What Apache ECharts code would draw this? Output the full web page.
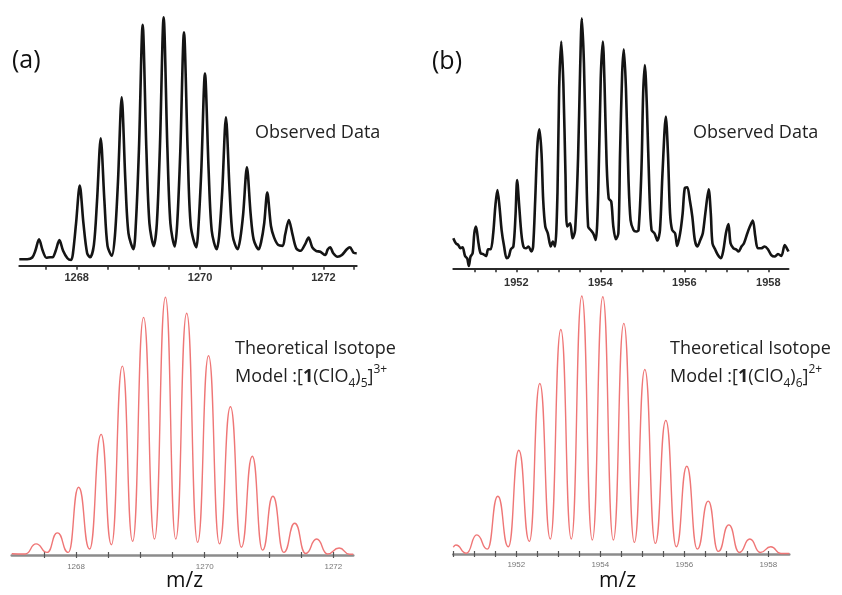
<!DOCTYPE html>
<html>
<head>
<meta charset="utf-8">
<script src="https://cdn.jsdelivr.net/npm/echarts@6/dist/echarts.min.js"></script>
<style>
  html, body { margin: 0; padding: 0; background: #ffffff; }
  #chart { width: 842px; height: 595px; }
</style>
</head>
<body>
<div id="chart"></div>
<script>
// Observed ESI-MS trace, [1(ClO4)5]3+ cluster: [m/z, relative intensity %]
const observedA = [
  [1267.07,2.6],[1267.20,2.6],[1267.28,3.3],
  [1267.33,6.0],[1267.39,10.6],[1267.45,6.0],[1267.51,3.2],[1267.57,3.4],
  [1267.61,3.4],[1267.66,6.0],[1267.72,10.3],[1267.78,6.0],[1267.85,3.0],[1267.91,2.3],
  [1267.94,5.0],[1267.99,17.0],[1268.05,32.3],[1268.11,17.0],[1268.17,5.0],[1268.22,3.4],
  [1268.28,8.5],[1268.33,26.0],[1268.39,51.3],[1268.45,26.0],[1268.50,8.0],[1268.57,4.0],
  [1268.62,12.0],[1268.67,34.0],[1268.73,67.8],[1268.79,34.0],[1268.84,13.0],[1268.92,6.6],
  [1268.96,17.0],[1269.01,47.0],[1269.07,97.0],[1269.13,47.0],[1269.18,17.0],[1269.25,7.9],
  [1269.30,17.0],[1269.35,48.0],[1269.41,100],[1269.47,48.0],[1269.52,17.0],[1269.59,7.7],
  [1269.63,17.0],[1269.68,46.0],[1269.74,94.0],[1269.80,46.0],[1269.85,16.0],[1269.94,7.4],
  [1269.97,14.0],[1270.02,38.0],[1270.08,77.4],[1270.14,38.0],[1270.19,14.0],[1270.27,6.6],
  [1270.31,12.0],[1270.36,30.0],[1270.42,59.7],[1270.48,30.0],[1270.53,12.0],[1270.61,6.6],
  [1270.65,10.5],[1270.70,21.0],[1270.76,39.6],[1270.82,21.0],[1270.87,10.5],[1270.95,6.6],
  [1270.99,9.5],[1271.04,17.0],[1271.09,29.4],[1271.15,16.0],[1271.20,11.4],[1271.27,8.3],[1271.34,8.0],
  [1271.38,12.5],[1271.44,18.4],[1271.50,12.5],[1271.56,7.0],[1271.63,6.0],
  [1271.70,8.5],[1271.76,11.3],[1271.82,7.4],[1271.88,6.0],[1271.95,5.6],[1272.03,4.3],
  [1272.07,6.5],[1272.11,7.4],[1272.16,5.0],[1272.23,3.6],[1272.30,4.3],
  [1272.38,6.6],[1272.43,7.4],[1272.49,5.2],[1272.54,5.0]
];

// Observed ESI-MS trace, [1(ClO4)6]2+ cluster
const observedB = [
  [1950.50,12.0],[1950.56,10.0],[1950.62,9.3],[1950.67,8.0],[1950.72,8.4],[1950.78,4.9],[1950.83,4.0],
  [1950.87,0.9],[1950.91,4.7],[1950.96,6.0],[1951.00,14.0],[1951.04,16.7],[1951.10,10.0],[1951.15,6.0],
  [1951.21,5.7],[1951.28,4.9],[1951.33,7.6],[1951.39,7.6],[1951.45,14.0],[1951.50,24.7],[1951.55,31.3],
  [1951.60,24.7],[1951.65,15.3],[1951.71,8.7],[1951.77,4.0],[1951.82,4.7],[1951.87,7.6],[1951.93,8.7],
  [1951.98,20.7],[1952.02,35.3],[1952.07,24.7],[1952.12,14.0],[1952.17,8.7],[1952.23,8.0],[1952.29,8.7],
  [1952.36,6.7],[1952.40,8.7],[1952.45,27.3],[1952.50,48.7],[1952.55,55.6],[1952.60,46.0],[1952.64,27.3],
  [1952.69,16.7],[1952.75,14.0],[1952.82,8.7],[1952.87,10.7],[1952.92,8.7],[1952.98,30.0],[1953.02,72.0],
  [1953.07,90.7],[1953.12,74.0],[1953.17,38.0],[1953.21,16.7],[1953.28,18.0],[1953.34,12.0],[1953.40,15.3],
  [1953.47,44.0],[1953.52,80.0],[1953.56,100],[1953.61,82.0],[1953.66,44.0],[1953.71,16.7],[1953.77,15.3],
  [1953.83,14.0],[1953.89,11.3],[1953.95,30.0],[1954.01,76.0],[1954.06,90.7],[1954.10,74.0],[1954.15,42.0],
  [1954.20,28.0],[1954.26,26.7],[1954.31,16.7],[1954.37,11.6],[1954.43,14.0],[1954.47,46.0],[1954.52,78.0],
  [1954.56,87.6],[1954.61,72.0],[1954.67,36.0],[1954.72,19.3],[1954.79,15.3],[1954.85,14.7],[1954.91,15.3],
  [1954.98,40.0],[1955.02,70.0],[1955.06,81.3],[1955.11,64.0],[1955.17,30.0],[1955.22,15.3],[1955.29,14.0],
  [1955.36,11.1],[1955.42,15.3],[1955.48,38.0],[1955.56,60.7],[1955.61,46.0],[1955.66,22.0],[1955.71,15.3],
  [1955.78,14.0],[1955.83,8.9],[1955.90,14.0],[1955.96,22.0],[1956.01,32.0],[1956.07,32.4],[1956.13,27.3],
  [1956.19,20.7],[1956.25,11.3],[1956.31,8.7],[1956.38,11.3],[1956.44,14.0],[1956.50,22.0],[1956.58,31.6],
  [1956.63,22.0],[1956.67,10.0],[1956.74,7.3],[1956.80,5.3],[1956.87,4.0],[1956.93,7.3],[1956.99,14.0],
  [1957.05,17.7],[1957.10,10.0],[1957.17,8.0],[1957.23,7.6],[1957.29,6.7],[1957.36,8.7],[1957.42,10.0],
  [1957.50,14.0],[1957.56,16.7],[1957.63,19.1],[1957.69,12.7],[1957.75,8.0],[1957.83,8.0],[1957.91,8.7],
  [1957.99,7.6],[1958.07,5.3],[1958.15,4.7],[1958.23,5.7],[1958.31,4.9],[1958.39,9.3],[1958.44,8.0],
  [1958.48,6.7]
];

// Theoretical isotope pattern [1(ClO4)5]3+: peak maxima and the minima between them
const theoryPeaksA = [
  [1267.38,4.3],[1267.71,8.6],[1268.04,26.3],[1268.39,46.8],[1268.72,73.3],[1269.05,92.2],[1269.39,100],
  [1269.72,93.8],[1270.06,77.3],[1270.40,57.5],[1270.74,38.3],[1271.06,22.8],[1271.40,12.3],[1271.74,6.2],
  [1272.09,2.7]
];
const theoryMinimaA = [
  [1267.00,0.5],[1267.21,0.4],[1267.55,1.0],[1267.88,1.0],[1268.21,2.3],[1268.55,4.0],[1268.88,5.3],
  [1269.22,6.2],[1269.55,6.2],[1269.89,4.9],[1270.23,4.3],[1270.57,3.0],[1270.90,1.9],[1271.23,1.0],
  [1271.57,0.6],[1271.91,0.4],[1272.25,0.3],[1272.31,0.3]
];

// Theoretical isotope pattern [1(ClO4)6]2+
const theoryPeaksB = [
  [1950.56,3.5],[1951.06,7.4],[1951.56,22.4],[1952.06,40.2],[1952.56,66.1],[1953.06,87.0],[1953.56,100],
  [1954.06,99.7],[1954.56,89.4],[1955.06,71.5],[1955.56,51.8],[1956.06,34.0],[1956.57,20.5],[1957.06,11.3],
  [1957.56,5.8],[1958.06,2.8]
];
const theoryMinimaB = [
  [1950.50,2.6],[1950.81,0.3],[1951.31,1.9],[1951.81,2.8],[1952.31,4.9],[1952.81,5.8],[1953.31,5.8],
  [1953.81,5.4],[1954.31,5.4],[1954.81,4.5],[1955.31,4.1],[1955.81,2.8],[1956.31,1.9],[1956.81,1.0],
  [1957.31,0.6],[1957.81,0.6],[1958.30,0.2],[1958.50,0.2]
];

// Axis tick positions and labelled values
const ticksA  = [1267.5,1268,1268.5,1269,1269.5,1270,1270.5,1271,1271.5,1272,1272.5];
const labelsA = [1268,1270,1272];
const ticksB  = [1951,1951.5,1952,1952.5,1953,1953.5,1954,1954.5,1955,1955.5,1956,1956.5,1957,1957.5,1958];
const labelsB = [1952,1954,1956,1958];
const ticksC  = [1267.5,1268,1268.5,1269,1269.5,1270,1270.5,1271,1271.5,1272];
const labelsC = [1268,1270,1272];
const ticksD  = [1950.5,1951,1951.5,1952,1952.5,1953,1953.5,1954,1954.5,1955,1955.5,1956,1956.5,1957,1957.5,1958];
const labelsD = [1952,1954,1956,1958];

const mergeByMz = (a, b) => a.concat(b).sort((p, q) => p[0] - q[0]);

const chart = echarts.init(document.getElementById('chart'), null, { renderer: 'canvas' });

const TEXT_FONT = '"Open Sans", "Liberation Sans", sans-serif';

function topAxis(gridIndex, min, max, ticks, labels, margin) {
  return {
    type: 'value', gridIndex, min, max, position: 'bottom',
    axisLine: { show: true, lineStyle: { color: '#2a2a2a', width: 2 } },
    axisTick: { show: true, customValues: ticks, length: 4, inside: false, lineStyle: { color: '#2a2a2a', width: 1.5 } },
    axisLabel: { show: true, customValues: labels, margin, color: '#333', fontSize: 11, fontWeight: 'bold',
                 fontFamily: '"Liberation Sans", Arial, sans-serif', formatter: v => String(v) },
    splitLine: { show: false }
  };
}
function bottomAxis(gridIndex, min, max, ticks, labels, inside, margin) {
  return {
    type: 'value', gridIndex, min, max, position: 'bottom',
    axisLine: { show: !inside, lineStyle: { color: '#8c8c8c', width: 2.5 } },
    axisTick: { show: true, customValues: ticks, length: 3, inside, lineStyle: { color: '#555', width: 1.2 } },
    axisLabel: { show: !inside, customValues: labels, margin, color: '#777', fontSize: 8,
                 fontFamily: '"Liberation Sans", Arial, sans-serif', formatter: v => String(v) },
    splitLine: { show: false }
  };
}
const hiddenY = gi => ({ type: 'value', gridIndex: gi, min: 0, max: 100, show: false });

const modelRich = {
  n: { fontSize: 18, fontFamily: TEXT_FONT, lineHeight: 26, fill: '#222' },
  b: { fontSize: 18, fontFamily: TEXT_FONT, fontWeight: 'bold', lineHeight: 26, fill: '#222' },
  s: { fontSize: 12, fontFamily: TEXT_FONT, lineHeight: 19, verticalAlign: 'bottom', fill: '#222' },
  p: { fontSize: 12, fontFamily: TEXT_FONT, lineHeight: 16, verticalAlign: 'top', fill: '#222' }
};

chart.setOption({
  animation: false,
  backgroundColor: '#ffffff',
  grid: [
    { left: 19.3,  top: 17.3, width: 337.4, height: 248.4 },
    { left: 453.3, top: 18.3, width: 335.2, height: 250 },
    { left: 11.7,  top: 297.3, width: 341.6, height: 257.7 },
    { left: 453.3, top: 296,  width: 336,   height: 258 }
  ],
  xAxis: [
    topAxis(0, 1267.07, 1272.54, ticksA, labelsA, 7),
    topAxis(1, 1950.5, 1958.48, ticksB, labelsB, 9),
    bottomAxis(2, 1267.0, 1272.31, ticksC, labelsC, false, 8),
    bottomAxis(3, 1950.5, 1958.5, ticksD, labelsD, false, 7),
    bottomAxis(2, 1267.0, 1272.31, ticksC, labelsC, true, 8),
    bottomAxis(3, 1950.5, 1958.5, ticksD, labelsD, true, 7)
  ],
  yAxis: [hiddenY(0), hiddenY(1), hiddenY(2), hiddenY(3)],
  series: [
    { type: 'line', xAxisIndex: 0, yAxisIndex: 0, data: observedA, showSymbol: false, smooth: 0.3,
      clip: false, lineStyle: { color: '#141414', width: 2.6, join: 'round' } },
    { type: 'line', xAxisIndex: 1, yAxisIndex: 1, data: observedB, showSymbol: false, smooth: 0.3,
      clip: false, lineStyle: { color: '#141414', width: 2.6, join: 'round' } },
    { type: 'line', xAxisIndex: 2, yAxisIndex: 2, data: mergeByMz(theoryPeaksA, theoryMinimaA), showSymbol: false,
      smooth: 0.55, smoothMonotone: 'x', clip: false, lineStyle: { color: '#ef7676', width: 1.4 } },
    { type: 'line', xAxisIndex: 3, yAxisIndex: 3, data: mergeByMz(theoryPeaksB, theoryMinimaB), showSymbol: false,
      smooth: 0.55, smoothMonotone: 'x', clip: false, lineStyle: { color: '#ef7676', width: 1.4 } }
  ],
  graphic: [
    { type: 'text', left: 12, top: 48, style: { text: '(a)', font: '25px ' + TEXT_FONT, fill: '#111' } },
    { type: 'text', left: 432, top: 49, style: { text: '(b)', font: '25px ' + TEXT_FONT, fill: '#111' } },
    { type: 'text', left: 255, top: 124, style: { text: 'Observed Data', font: '18px ' + TEXT_FONT, fill: '#222' } },
    { type: 'text', left: 693, top: 124, style: { text: 'Observed Data', font: '18px ' + TEXT_FONT, fill: '#222' } },
    { type: 'text', left: 235, top: 340, style: { text: 'Theoretical Isotope', font: '18px ' + TEXT_FONT, fill: '#222' } },
    { type: 'text', left: 670, top: 340, style: { text: 'Theoretical Isotope', font: '18px ' + TEXT_FONT, fill: '#222' } },
    { type: 'text', left: 235, top: 364, style: {
        text: '{n|Model :[}{b|1}{n|(ClO}{s|4}{n|)}{s|5}{n|]}{p|3+}', fill: '#222', rich: modelRich } },
    { type: 'text', left: 670, top: 364, style: {
        text: '{n|Model :[}{b|1}{n|(ClO}{s|4}{n|)}{s|6}{n|]}{p|2+}', fill: '#222', rich: modelRich } },
    { type: 'text', left: 166, top: 571, style: { text: 'm/z', font: '21px ' + TEXT_FONT, fill: '#111' } },
    { type: 'text', left: 599, top: 571, style: { text: 'm/z', font: '21px ' + TEXT_FONT, fill: '#111' } }
  ]
});
</script>
</body>
</html>
